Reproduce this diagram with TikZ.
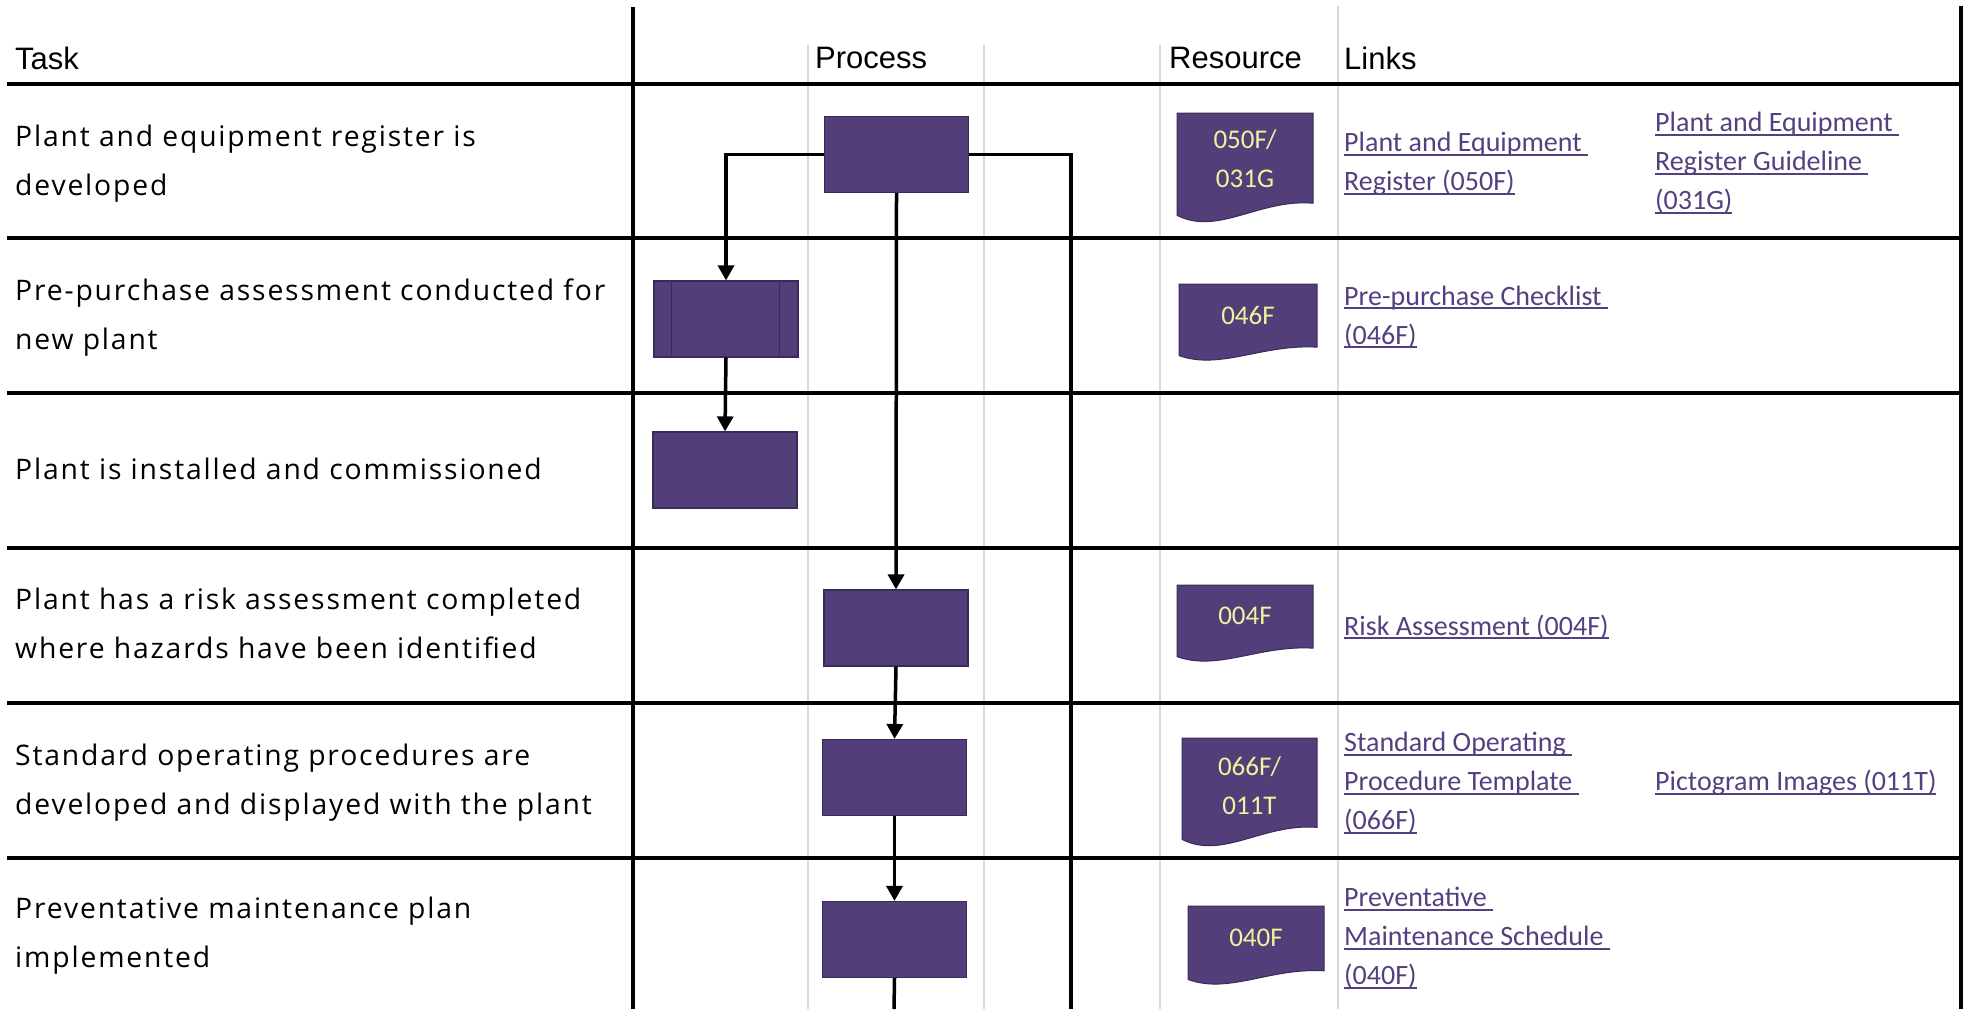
\documentclass[tikz,border=0pt]{standalone}
\usepackage{fontspec}
\setmainfont{Open Sans}
\newfontfamily\taskfont[LetterSpace=6.5]{Open Sans}
\newfontfamily\headfont{Liberation Sans}
\newfontfamily\linkfont{Carlito}
\usepackage{xcolor}
\usepackage{tikz}
\usetikzlibrary{arrows.meta}

\definecolor{procfill}{RGB}{82,62,121}
\definecolor{procline}{RGB}{58,42,90}
\definecolor{linkcol}{RGB}{84,64,128}
\definecolor{resyel}{RGB}{240,242,160}
\definecolor{gridgrey}{RGB}{217,217,217}

\newsavebox{\ulbox}
\newcommand{\lnkul}[1]{\sbox{\ulbox}{#1}\rlap{\rule[-4pt]{\wd\ulbox}{2pt}}\usebox{\ulbox}}
\newcommand{\docshape}[4]{%
  \filldraw[docbody] (#1,#2) -- ({#1+#3},#2) -- ({#1+#3},{#2+0.82*#4})
    .. controls ({#1+0.6*#3},{#2+0.78*#4}) and ({#1+0.3*#3},{#2+1.12*#4}) .. (#1,{#2+0.93*#4}) -- cycle;}

\begin{document}
\begin{tikzpicture}[
  x=1pt, y=-1pt,
  proc/.style={draw=procline, fill=procfill, line width=1.2pt, minimum width=144pt, minimum height=76pt, inner sep=0pt},
  flow/.style={line width=3.5pt, -{Triangle[length=15pt,width=16pt]}},
  wire/.style={line width=3.5pt},
  tabline/.style={line width=3.5pt},
  gridline/.style={line width=2.5pt, draw=gridgrey},
  docbody/.style={fill=procfill, draw=procline, line width=1pt},
  head/.style={anchor=west, inner sep=0pt, font=\headfont\fontsize{31}{36}\selectfont},
  task/.style={anchor=west, align=left, inner sep=0pt, font=\taskfont\fontsize{28.3}{49}\selectfont},
  lnk/.style={anchor=west, align=left, inner sep=0pt, text=linkcol, font=\linkfont\fontsize{28}{39}\selectfont},
  restext/.style={align=center, inner sep=0pt, text=resyel, font=\linkfont\fontsize{27}{39}\selectfont}
]
\useasboundingbox (0,0) rectangle (1967,1009);
\draw[gridline] (808,45) -- (808,1009);
\draw[gridline] (984,45) -- (984,1009);
\draw[gridline] (1160,45) -- (1160,1009);
\draw[gridline] (1338,6) -- (1338,1009);
\draw[tabline] (7,84) -- (1961,84);
\draw[tabline] (7,238) -- (1961,238);
\draw[tabline] (7,393) -- (1961,393);
\draw[tabline] (7,548) -- (1961,548);
\draw[tabline] (7,703) -- (1961,703);
\draw[tabline] (7,858) -- (1961,858);
\draw[tabline] (633,7) -- (633,1009);
\draw[tabline] (1961,6) -- (1961,1009);

\node[head] (htask) at (15,58) {Task};
\node[head] (hproc) at (815,58) {Process};
\node[head] (hres) at (1169,58) {Resource};
\node[head] (hlinks) at (1344,58) {Links};

\node[task] (t1) at (15,163.5) {Plant and equipment register is\\developed};
\node[task] (t2) at (15,318) {Pre-purchase assessment conducted for\\new plant};
\node[task] (t3) at (15,468.5) {Plant is installed and commissioned};
\node[task] (t4) at (15,623) {Plant has a risk assessment completed\\where hazards have been identified};
\node[task] (t5) at (15,783) {Standard operating procedures are\\developed and displayed with the plant};
\node[task] (t6) at (15,936) {Preventative maintenance plan\\implemented};

\node[proc] (p1) at (896.5,154.5) {};
\node[proc] (p2) at (726,319) {};
\node[proc] (p3) at (725,470) {};
\node[proc] (p4) at (896,628) {};
\node[proc] (p5) at (894.5,777.5) {};
\node[proc] (p6) at (894.5,939.5) {};
\draw[procline, line width=1.5pt] ([xshift=18pt]p2.north west) -- ([xshift=18pt]p2.south west);
\draw[procline, line width=1.5pt] ([xshift=-19pt]p2.north east) -- ([xshift=-19pt]p2.south east);

\coordinate (rbot) at (1071,1009);
\coordinate (cbot) at (894,1009);
\draw[flow] (p1.west) -| (p2.north);
\draw[wire] (p1.east) -| (rbot);
\draw[flow] (p1.south) -- (p4.north);
\draw[flow] (p2.south) -- (p3.north);
\draw[flow] (p4.south) -- (p5.north);
\draw[flow] (p5.south) -- (p6.north);
\draw[wire] (p6.south) -- (cbot);

\docshape{1177}{113}{136}{110}
\docshape{1179}{284}{138}{77}
\docshape{1177}{585}{136}{77}
\docshape{1182}{738}{135}{109}
\docshape{1188}{906}{136}{79}
\node[restext] (r1) at (1245,159) {050F/\\031G};
\node[restext] (r2) at (1248,315) {046F};
\node[restext] (r4) at (1245,616) {004F};
\node[restext] (r5) at (1249.5,786) {066F/\\011T};
\node[restext] (r6) at (1256,938) {040F};

\node[lnk] (l1a) at (1344,164) {\lnkul{Plant and Equipment\ }\\\lnkul{Register (050F)}};
\node[lnk] (l1b) at (1655,163) {\lnkul{Plant and Equipment\ }\\\lnkul{Register Guideline\ }\\\lnkul{(031G)}};
\node[lnk] (l2) at (1344,317) {\lnkul{Pre-purchase Checklist\ }\\\lnkul{(046F)}};
\node[lnk] (l4) at (1344,627) {\lnkul{Risk Assessment (004F)}};
\node[lnk] (l5a) at (1344,783) {\lnkul{Standard Operating\ }\\\lnkul{Procedure Template\ }\\\lnkul{(066F)}};
\node[lnk] (l5b) at (1655,783) {\lnkul{Pictogram Images (011T)}};
\node[lnk] (l6) at (1344,938) {\lnkul{Preventative\ }\\\lnkul{Maintenance Schedule\ }\\\lnkul{(040F)}};
\end{tikzpicture}
\end{document}
